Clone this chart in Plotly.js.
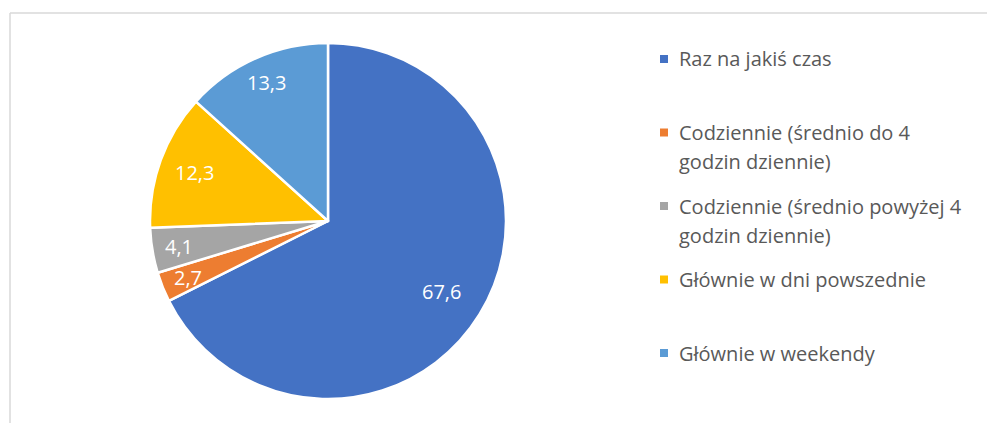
<!DOCTYPE html>
<html>
<head>
<meta charset="utf-8">
<script src="https://cdn.plot.ly/plotly-3.0.1.min.js"></script>
<style>
  html, body { margin: 0; padding: 0; background: #ffffff; }
  #chart { width: 988px; height: 423px; }
</style>
</head>
<body>
<div id="chart"></div>
<script>
// ---- data ----
const labels = [
  "Raz na jakiś czas",
  "Codziennie (średnio do 4<br>godzin dziennie)",
  "Codziennie (średnio powyżej 4<br>godzin dziennie)",
  "Głównie w dni powszednie",
  "Głównie w weekendy"
];
const values = [67.6, 2.7, 4.1, 12.3, 13.3];
const colors = ["#4472C4", "#ED7D31", "#A5A5A5", "#FFC000", "#5B9BD5"];

// ---- layout helpers ----
const W = 988, H = 423;
const px = x => x / W;
const py = y => 1 - y / H;

// pie geometry (pixels)
const pieLeft = 150, pieRight = 506, pieTop = 43, pieBottom = 399;
const cx = (pieLeft + pieRight) / 2, cy = (pieTop + pieBottom) / 2;
const R = (pieRight - pieLeft) / 2;
// radial placement of data labels (fraction of radius, per slice) – style only
const labelRadius = [0.75, 0.85, 0.85, 0.80, 0.85];

const shapes = [
  {type: "line", xref: "paper", yref: "paper", x0: px(10), x1: px(987), y0: py(13), y1: py(13),
   line: {color: "#d9d9d9", width: 1.5}},
  {type: "line", xref: "paper", yref: "paper", x0: px(10), x1: px(10), y0: py(13), y1: py(423),
   line: {color: "#d9d9d9", width: 1.5}}
];
const annotations = [];

// data labels placed on slice bisectors, computed from the values
const total = values.reduce((a, b) => a + b, 0);
let cum = 0;
values.forEach((v, i) => {
  const mid = (cum + v / 2) / total * 2 * Math.PI;
  cum += v;
  const r = labelRadius[i] * R;
  annotations.push({xref: "paper", yref: "paper",
    x: px(cx + r * Math.sin(mid)), y: py(cy - r * Math.cos(mid)),
    xanchor: "center", yanchor: "middle", showarrow: false,
    text: v.toFixed(1).replace(".", ","),
    font: {family: "Open Sans, sans-serif", size: 20, color: "#ffffff"}});
});

// custom legend (items top-aligned in equal slots)
const slotTop = 59, slotStep = 73.5, lineStep = 29;
labels.forEach((lab, i) => {
  const yc = slotTop + slotStep * i;
  shapes.push({type: "rect", xref: "paper", yref: "paper",
    x0: px(660), x1: px(668), y0: py(yc - 4), y1: py(yc + 4),
    fillcolor: colors[i], line: {width: 0}});
  lab.split("<br>").forEach((ln, j) => {
    annotations.push({xref: "paper", yref: "paper", x: px(677), y: py(yc + j * lineStep),
      xanchor: "left", yanchor: "middle", showarrow: false, text: ln,
      font: {family: "Open Sans, sans-serif", size: 20, color: "#595959"}});
  });
});

const trace = {
  type: "pie",
  labels: labels,
  values: values,
  sort: false,
  direction: "clockwise",
  rotation: 0,
  marker: {colors: colors, line: {color: "#ffffff", width: 2.5}},
  textinfo: "none",
  textposition: "none",
  domain: {x: [px(pieLeft), px(pieRight)], y: [py(pieBottom), py(pieTop)]},
  showlegend: false,
  hoverinfo: "label+value"
};

const layout = {
  width: W, height: H,
  margin: {l: 0, r: 0, t: 0, b: 0},
  paper_bgcolor: "#ffffff",
  separators: ", ",
  showlegend: false,
  shapes: shapes,
  annotations: annotations,
  font: {family: "Open Sans, sans-serif"}
};

Plotly.newPlot("chart", [trace], layout, {displayModeBar: false, staticPlot: true});
</script>
</body>
</html>
